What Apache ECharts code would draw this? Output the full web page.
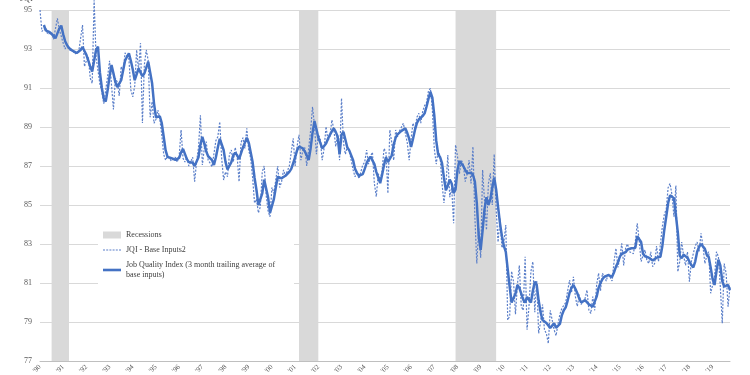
<!DOCTYPE html>
<html><head><meta charset="utf-8">
<script src="https://cdn.jsdelivr.net/npm/echarts@6/dist/echarts.min.js"></script>
<style>html,body{margin:0;padding:0;background:#fff}#c{width:750px;height:375px}</style>
</head><body><div id="c"></div>
<script>
// Monthly categories Jan 1990 .. Oct 2019
const startYear = 1990;
const monthCount = 358;
const months = [];
for (let i = 0; i < monthCount; i++) {
  const y = startYear + Math.floor(i / 12), mo = (i % 12) + 1;
  months.push(y + '-' + (mo < 10 ? '0' + mo : mo));
}

// JQI - Base Inputs2 (monthly)
const jqiBase = [
  95.0, 93.9, 93.8, 94.1, 93.75, 93.8, 93.85, 93.5, 93.46, 94.57, 94.0, 94.1,
  93.3, 93.0, 93.2, 92.95, 92.85, 92.9, 92.75, 92.7, 92.85, 92.9, 94.23, 92.1,
  92.4, 92.6, 91.5, 91.24, 95.5, 92.6, 92.5, 91.2, 90.8, 90.2, 90.1, 91.6,
  92.4, 92.3, 89.9, 91.5, 91.3, 90.6, 92.1, 91.8, 92.8, 92.9, 92.5, 90.9,
  90.55, 91.1, 92.95, 91.9, 93.3, 89.2, 92.2, 92.95, 92.4, 89.5, 90.3, 89.19,
  89.4, 89.87, 89.4, 88.6, 87.6, 87.3, 87.5, 87.55, 87.25, 87.3, 87.45, 87.2,
  87.5, 88.85, 87.4, 87.2, 87.45, 87.0, 87.1, 87.45, 86.2, 87.2, 87.95, 89.6,
  87.05, 87.9, 88.25, 87.3, 87.15, 86.96, 87.05, 88.3, 88.5, 89.27, 87.4, 86.28,
  86.7, 86.45, 87.6, 87.82, 87.2, 87.95, 87.5, 86.2, 88.2, 88.45, 87.9, 88.93,
  87.8, 87.4, 86.4, 85.1, 85.3, 84.6, 84.9, 86.7, 87.0, 85.5, 84.7, 84.4,
  85.9, 85.6, 86.3, 87.0, 85.9, 86.2, 86.8, 86.5, 86.6, 87.0, 86.9, 88.42,
  87.0, 88.0, 88.6, 87.3, 87.8, 87.95, 87.0, 86.9, 88.8, 90.04, 89.1, 87.6,
  88.6, 88.4, 87.3, 87.9, 89.02, 88.3, 88.5, 89.36, 88.9, 88.0, 88.6, 87.3,
  90.47, 88.2, 87.6, 88.0, 87.8, 87.3, 86.8, 86.45, 86.7, 86.35, 86.35, 87.05,
  87.2, 87.82, 87.1, 87.5, 87.7, 86.1, 85.43, 86.6, 86.3, 86.75, 87.9, 87.7,
  85.6, 88.85, 88.2, 87.3, 88.85, 88.5, 88.8, 88.9, 89.19, 88.7, 88.2, 87.3,
  88.4, 89.2, 88.9, 89.5, 89.7, 89.2, 89.8, 90.1, 90.25, 90.85, 90.98, 89.9,
  87.9, 87.1, 87.8, 87.5, 86.1, 85.1, 86.0, 87.56, 85.4, 85.9, 84.06, 88.08,
  87.5, 86.6, 87.3, 87.1, 86.2, 86.6, 87.3, 86.1, 87.99, 84.4, 82.0, 83.8,
  82.3, 86.8, 85.2, 83.72, 86.1, 86.63, 85.0, 87.6, 84.8, 83.1, 84.3, 82.8,
  83.1, 83.97, 79.1, 79.3, 81.6, 81.07, 79.4, 80.9, 81.9, 79.8, 79.6, 82.35,
  78.6, 79.8, 81.6, 82.09, 79.5, 81.1, 78.42, 79.0, 79.9, 78.6, 78.4, 77.9,
  79.6, 79.53, 78.6, 78.3, 78.9, 79.4, 79.7, 79.7, 80.0, 80.6, 81.15, 80.5,
  81.32, 80.3, 79.8, 80.4, 79.9, 80.0, 80.2, 80.64, 79.6, 79.44, 80.3, 79.6,
  80.9, 81.5, 80.6, 81.5, 81.6, 81.1, 81.5, 81.4, 81.1, 82.1, 82.78, 81.8,
  82.3, 83.03, 81.9, 82.8, 83.0, 82.6, 82.7, 82.5, 83.1, 84.06, 83.2, 82.1,
  82.2, 82.7, 82.15, 82.0, 82.6, 81.84, 82.0, 82.9, 82.1, 82.1, 83.9, 84.5,
  84.8, 85.9, 86.1, 85.5, 84.4, 86.0, 81.58, 82.1, 83.1, 82.4, 81.9, 82.6,
  81.07, 82.1, 82.2, 82.9, 83.1, 82.6, 83.55, 82.9, 82.0, 82.4, 82.6, 80.47,
  80.9, 81.3, 82.6, 82.35, 80.8, 78.93, 82.0, 81.5, 79.79, 80.8
];

// Job Quality Index (3 month trailing average of base inputs)
const jqiAvg = [
  null, null, 94.23, 93.95, 93.88, 93.86, 93.8, 93.68, 93.55, 93.8, 94.05, 94.2,
  93.75, 93.4, 93.2, 93.05, 92.98, 92.9, 92.85, 92.8, 92.8, 92.95, 93.1, 92.9,
  92.7, 92.4, 92.1, 91.84, 92.4, 92.95, 93.12, 91.8, 91.0, 90.45, 90.3, 90.9,
  91.6, 92.18, 91.75, 91.3, 91.05, 91.1, 91.4, 91.9, 92.4, 92.6, 92.78, 92.4,
  91.95, 91.4, 91.7, 92.0, 91.8, 91.6, 91.75, 92.05, 92.35, 91.8, 91.24, 90.2,
  89.5, 89.6, 89.55, 89.2, 88.5, 87.8, 87.47, 87.44, 87.4, 87.36, 87.32, 87.35,
  87.42, 87.7, 87.88, 87.8, 87.35, 87.2, 87.19, 87.17, 87.0, 86.95, 87.45, 88.1,
  88.5, 88.15, 87.75, 87.5, 87.56, 87.3, 87.05, 87.45, 87.95, 88.4, 88.4, 87.82,
  87.2, 86.82, 86.92, 87.2, 87.55, 87.68, 87.55, 87.35, 87.65, 87.95, 88.2, 88.45,
  88.2, 87.7, 87.2, 86.4, 85.77, 85.0, 84.95, 85.6, 86.3, 86.2, 85.4, 84.6,
  84.7, 85.3, 85.9, 86.45, 86.4, 86.37, 86.42, 86.5, 86.56, 86.7, 86.85, 87.15,
  87.45, 87.8, 88.0, 87.95, 87.9, 87.75, 87.55, 87.3, 87.9, 88.7, 89.3, 88.9,
  88.45, 88.2, 87.9, 87.85, 88.15, 88.4, 88.6, 88.78, 88.93, 88.75, 88.5, 87.6,
  88.6, 88.75, 88.76, 87.95, 87.8, 87.7, 87.3, 86.85, 86.65, 86.5, 86.47, 86.58,
  86.85, 87.15, 87.35, 87.48, 87.44, 87.1, 86.7, 86.4, 86.12, 86.55, 87.05, 87.45,
  87.2, 87.1, 87.55, 88.1, 88.45, 88.62, 88.72, 88.8, 88.87, 88.93, 88.7, 88.4,
  87.98, 88.4, 88.85, 89.2, 89.4, 89.48, 89.56, 89.7, 90.05, 90.45, 90.8, 90.5,
  89.6, 88.3, 87.6, 87.45, 87.15, 86.4, 85.75, 86.0, 86.3, 86.1, 85.6, 85.8,
  86.8, 87.25, 87.2, 87.0, 86.8, 86.63, 86.68, 86.66, 86.55, 86.2, 85.1, 83.4,
  82.7, 83.7, 84.8, 85.4, 85.0, 85.3, 85.9, 86.4, 85.8, 84.9, 84.06, 83.4,
  82.9, 82.6, 81.7, 80.8, 80.0, 80.05, 80.45, 80.9, 80.75, 80.45, 80.15, 80.0,
  80.28, 80.25, 80.0, 80.6, 81.07, 80.9, 80.1, 79.5, 79.1, 79.0, 78.95, 78.98,
  78.7, 78.8, 78.93, 78.7, 78.62, 78.9, 79.35, 79.6, 79.75, 80.1, 80.5, 80.75,
  80.9, 80.7, 80.48, 80.2, 80.0, 80.08, 80.12, 80.02, 79.9, 79.8, 79.79, 79.8,
  80.3, 80.75, 81.0, 81.2, 81.32, 81.4, 81.4, 81.36, 81.32, 81.55, 81.84, 82.05,
  82.35, 82.5, 82.4, 82.58, 82.72, 82.8, 82.78, 82.7, 82.8, 83.4, 83.45, 83.1,
  82.5, 82.37, 82.35, 82.3, 82.27, 82.15, 82.12, 82.3, 82.35, 82.35, 82.9, 83.72,
  84.4, 85.1, 85.5, 85.6, 85.35, 85.28, 83.6, 82.4, 82.27, 82.45, 82.45, 82.3,
  82.1, 81.92, 81.8, 82.1, 82.6, 82.85, 83.0, 83.0, 82.75, 82.44, 82.33, 81.8,
  81.2, 80.9, 81.6, 82.2, 81.9, 81.1, 80.82, 80.85, 80.9, 80.64
];

// Recession periods (category start / end)
const recessionStarts = ['1990-07', '2001-03', '2007-12'];
const recessionEnds   = ['1991-04', '2002-01', '2009-09'];

// Y axis
const yMin = 77, yMax = 95, yStep = 2;

const serif = "'Liberation Serif', 'DejaVu Serif', serif";
const blue = '#4472C4';
const dashBlue = '#5b7fc9';

const solidIcon = 'path://M0,0H18V2.6H0Z';
const dashIcon = 'path://M0,0H2V1.2H0Z M3.2,0H5.2V1.2H3.2Z M6.4,0H8.4V1.2H6.4Z M9.6,0H11.6V1.2H9.6Z M12.8,0H14.8V1.2H12.8Z M16,0H18V1.2H16Z';

const chart = echarts.init(document.getElementById('c'), null, {renderer: 'canvas'});
chart.setOption({
  animation: false,
  backgroundColor: '#fff',
  grid: {left: 40, right: 20, top: 10, bottom: 14, containLabel: false, outerBoundsMode: 'none'},
  xAxis: {
    type: 'category',
    data: months,
    boundaryGap: false,
    axisLine: {show: true, lineStyle: {color: '#bfbfbf', width: 1}},
    axisTick: {show: false},
    axisLabel: {
      interval: 11, rotate: 45, margin: 5,
      fontFamily: serif, fontSize: 7, color: '#595959',
      formatter: v => "'" + v.slice(2, 4)
    },
    splitLine: {show: false}
  },
  yAxis: {
    type: 'value', min: yMin, max: yMax, interval: yStep,
    name: 'JQI', nameLocation: 'end', nameGap: 7,
    nameTextStyle: {fontFamily: serif, fontSize: 9, color: '#595959', align: 'right', verticalAlign: 'bottom', padding: [0, 7, 0, 0]},
    axisLine: {show: false}, axisTick: {show: false},
    axisLabel: {fontFamily: serif, fontSize: 8, color: '#595959', margin: 8},
    splitLine: {lineStyle: {color: '#d9d9d9', width: 1}}
  },
  legend: {
    orient: 'vertical', left: 98, top: 226,
    itemWidth: 18, itemHeight: 7, itemGap: 5,
    backgroundColor: '#fff', padding: [4, 8, 4, 5],
    textStyle: {fontFamily: serif, fontSize: 8, color: '#404040', width: 160, overflow: 'break', lineHeight: 10},
    data: [
      {name: 'Recessions', icon: 'rect', itemStyle: {color: '#d9d9d9'}},
      {name: 'JQI - Base Inputs2', icon: dashIcon, itemStyle: {color: dashBlue}},
      {name: 'Job Quality Index (3 month trailing average of base inputs)', icon: solidIcon, itemStyle: {color: blue}}
    ]
  },
  series: [
    {
      name: 'Recessions', type: 'line', data: [], z: 1,
      itemStyle: {color: '#d9d9d9'}, lineStyle: {color: '#d9d9d9'},
      markArea: {
        silent: true,
        itemStyle: {color: '#d9d9d9'},
        data: recessionStarts.map((s, i) => [{xAxis: s}, {xAxis: recessionEnds[i]}])
      }
    },
    {
      name: 'JQI - Base Inputs2', type: 'line', data: jqiBase, z: 3,
      symbol: 'none', clip: false,
      itemStyle: {color: dashBlue},
      lineStyle: {color: dashBlue, width: 1.2, type: [2, 1.5]}
    },
    {
      name: 'Job Quality Index (3 month trailing average of base inputs)', type: 'line', data: jqiAvg, z: 4,
      symbol: 'none', connectNulls: false,
      itemStyle: {color: blue},
      lineStyle: {color: blue, width: 2.5}
    }
  ]
});
</script>
</body></html>
